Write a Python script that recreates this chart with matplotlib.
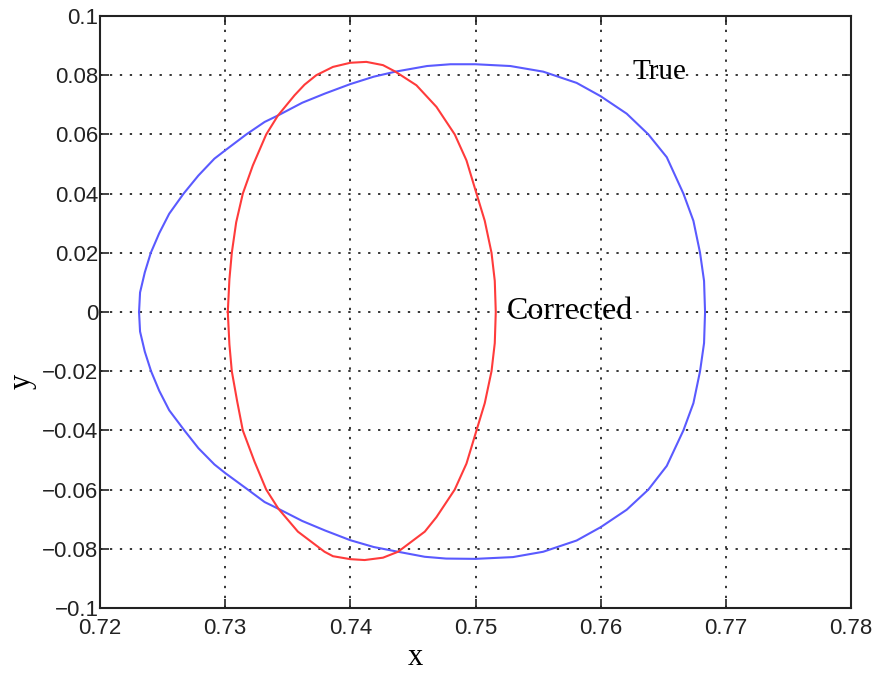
import matplotlib
matplotlib.use('Agg')
import matplotlib.pyplot as plt

# True contour: upper half left->right, then lower half right->left
true_x = [0.72312, 0.72320, 0.72358, 0.72406, 0.72473, 0.72553, 0.72668, 0.72786,
          0.72914, 0.73000, 0.73169, 0.73315, 0.73422, 0.73616, 0.73797, 0.74000,
          0.74187, 0.74360, 0.74613, 0.74800, 0.75000, 0.75278, 0.75541, 0.75808,
          0.76000, 0.76208, 0.76381, 0.76528, 0.76661, 0.76741, 0.76794, 0.76826,
          0.76834,
          0.76826, 0.76794, 0.76741, 0.76661, 0.76528, 0.76381, 0.76208, 0.76000,
          0.75808, 0.75541, 0.75299, 0.75000, 0.74765, 0.74595, 0.74381, 0.74187,
          0.74000, 0.73797, 0.73616, 0.73426, 0.73315, 0.73181, 0.73000, 0.72914,
          0.72786, 0.72674, 0.72553, 0.72473, 0.72408, 0.72358, 0.72320, 0.72312]
true_y = [0.0, 0.0066, 0.0134, 0.0200, 0.0266, 0.0332, 0.0400, 0.0461,
          0.0518, 0.0546, 0.0600, 0.0642, 0.0664, 0.0707, 0.0738, 0.0770,
          0.0795, 0.0812, 0.0831, 0.0837, 0.0837, 0.0831, 0.0812, 0.0774,
          0.0729, 0.0670, 0.0600, 0.0523, 0.0400, 0.0308, 0.0200, 0.0105,
          0.0,
          -0.0105, -0.0200, -0.0308, -0.0400, -0.0520, -0.0600, -0.0668, -0.0727,
          -0.0772, -0.0810, -0.0828, -0.0834, -0.0833, -0.0827, -0.0810, -0.0794,
          -0.0771, -0.0738, -0.0706, -0.0665, -0.0642, -0.0600, -0.0544, -0.0515,
          -0.0460, -0.0400, -0.0332, -0.0266, -0.0200, -0.0134, -0.0066, 0.0]

# Corrected contour
corr_x = [0.73021, 0.73034, 0.73053, 0.73088, 0.73141, 0.73221, 0.73328, 0.73422,
          0.73554, 0.73634, 0.73728, 0.73861, 0.74000, 0.74128, 0.74261, 0.74360,
          0.74528, 0.74688, 0.74834, 0.74928, 0.75008, 0.75074, 0.75128, 0.75154,
          0.75162,
          0.75154, 0.75128, 0.75074, 0.75008, 0.74928, 0.74834, 0.74688, 0.74595,
          0.74381, 0.74261, 0.74114, 0.74000, 0.73861, 0.73794, 0.73581, 0.73426,
          0.73328, 0.73234, 0.73141, 0.73096, 0.73053, 0.73034, 0.73021]
corr_y = [0.0, 0.0111, 0.0200, 0.0303, 0.0400, 0.0495, 0.0600, 0.0664,
          0.0732, 0.0768, 0.0800, 0.0828, 0.0842, 0.0845, 0.0834, 0.0812,
          0.0766, 0.0693, 0.0600, 0.0512, 0.0400, 0.0308, 0.0200, 0.0105,
          0.0,
          -0.0105, -0.0200, -0.0308, -0.0400, -0.0512, -0.0600, -0.0693, -0.0742,
          -0.0810, -0.0830, -0.0838, -0.0835, -0.0825, -0.0810, -0.0742, -0.0665,
          -0.0600, -0.0505, -0.0400, -0.0302, -0.0200, -0.0110, 0.0]

x_ticks = [0.72, 0.73, 0.74, 0.75, 0.76, 0.77, 0.78]
x_labels = ['0.72', '0.73', '0.74', '0.75', '0.76', '0.77', '0.78']
y_ticks = [-0.1, -0.08, -0.06, -0.04, -0.02, 0, 0.02, 0.04, 0.06, 0.08, 0.1]
y_labels = ['\u22120.1', '\u22120.08', '\u22120.06', '\u22120.04', '\u22120.02', '0',
            '0.02', '0.04', '0.06', '0.08', '0.1']

fig = plt.figure(figsize=(8.82, 6.74), dpi=100)
ax = fig.add_axes([100 / 882, 1 - 608 / 674, 751 / 882, 592 / 674])

ax.plot(true_x, true_y, color='#5a5aff', lw=1.5)
ax.plot(corr_x, corr_y, color='#ff3b3b', lw=1.5)

ax.set_xlim(0.72, 0.78)
ax.set_ylim(-0.1, 0.1)
ax.set_xticks(x_ticks)
ax.set_xticklabels(x_labels)
ax.set_yticks(y_ticks)
ax.set_yticklabels(y_labels)

ax.grid(True, color='black', linestyle=(0, (1.5, 5)), lw=1.1)
ax.tick_params(direction='in', length=6.5, width=1.2, top=True, right=True,
               labelsize=16, colors='#222222')
ax.tick_params(axis='y', pad=1)
ax.tick_params(axis='x', pad=7)
for lab in ax.get_xticklabels() + ax.get_yticklabels():
    lab.set_family('Liberation Sans')
for sp in ax.spines.values():
    sp.set_linewidth(1.5)
    sp.set_color('#222222')

ax.set_xlabel('x', family='Liberation Serif', fontsize=22)
ax.xaxis.set_label_coords((415.5 - 100) / 751, -0.0963)
ax.xaxis.label.set_va('baseline')
ax.set_ylabel('y', family='Liberation Serif', fontsize=22)
ax.yaxis.set_label_coords((22 - 100) / 751, 0.382)
ax.yaxis.label.set_va('center')

ax.text(0.76254, 0.081, 'True', family='Liberation Serif', fontsize=21,
        ha='left', va='center')
ax.text(0.75250, 0.0003, 'Corrected', family='Liberation Serif', fontsize=23,
        ha='left', va='center')

fig.savefig('out.png', dpi=100)
